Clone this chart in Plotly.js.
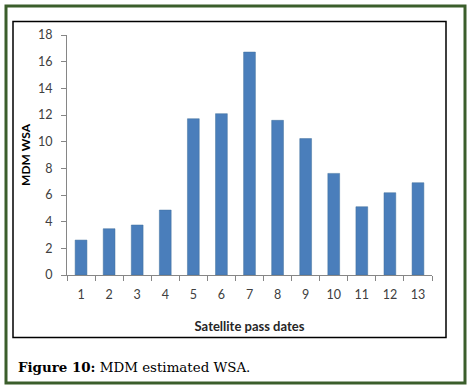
<!DOCTYPE html>
<html>
<head>
<meta charset="utf-8">
<script src="https://cdn.plot.ly/plotly-3.0.1.min.js"></script>
<style>
  html, body { margin: 0; padding: 0; background: #ffffff; }
  #chart { width: 472px; height: 390px; }
</style>
</head>
<body>
<div id="chart"></div>
<script>
// ---- data ----
const categories = ["1","2","3","4","5","6","7","8","9","10","11","12","13"];
const wsaValues = [2.62, 3.47, 3.75, 4.87, 11.72, 12.1, 16.72, 11.6, 10.23, 7.62, 5.12, 6.17, 6.92];
const yTickValues = [0, 2, 4, 6, 8, 10, 12, 14, 16, 18];

// ---- layout geometry (pixels) ----
const W = 472, H = 390;
const M = { l: 67, r: 40, t: 35, b: 115 };
const plotW = W - M.l - M.r, plotH = H - M.t - M.b;
const px = x => (x - M.l) / plotW;
const py = y => (H - M.b - y) / plotH;

const trace = {
  type: "bar",
  x: categories,
  y: wsaValues,
  width: 0.42,
  marker: { color: "#4a7ebb", line: { color: "#41719c", width: 0.5 } },
  hoverinfo: "x+y"
};

const layout = {
  width: W, height: H,
  margin: M,
  paper_bgcolor: "#ffffff",
  plot_bgcolor: "#ffffff",
  showlegend: false,
  font: { family: "Lato, 'Open Sans', sans-serif", size: 12, color: "#404040" },
  xaxis: {
    type: "category",
    tickson: "boundaries",
    ticks: "outside", ticklen: 5, tickcolor: "#868686", tickwidth: 1,
    showline: true, linecolor: "#868686", linewidth: 1,
    showgrid: false, zeroline: false,
    ticklabelstandoff: 8,
    tickfont: { family: "Lato, sans-serif", size: 12.5, color: "#404040" },
    title: { text: "<b>Satellite pass dates</b>", standoff: 20,
             font: { family: "Lato, sans-serif", size: 13, color: "#262626" } }
  },
  yaxis: {
    range: [0, 18],
    tickvals: yTickValues,
    ticks: "outside", ticklen: 5, tickcolor: "#868686", tickwidth: 1,
    showline: true, linecolor: "#868686", linewidth: 1,
    showgrid: false, zeroline: false,
    ticklabelstandoff: 6,
    tickfont: { family: "Lato, sans-serif", size: 12.5, color: "#404040" },
    title: { text: "<b>MDM WSA</b>", standoff: 4,
             font: { family: "Lato, sans-serif", size: 12, color: "#000000" } }
  },
  shapes: [
    { type: "rect", xref: "paper", yref: "paper",
      x0: px(6), x1: px(465), y0: py(383), y1: py(6),
      line: { color: "#3b5e2b", width: 3 }, layer: "below" },
    { type: "rect", xref: "paper", yref: "paper",
      x0: px(13), x1: px(446), y0: py(337.5), y1: py(21.5),
      line: { color: "#000000", width: 1.5 }, layer: "below" }
  ],
  annotations: [
    { xref: "paper", yref: "paper", x: px(16), y: py(367),
      xanchor: "left", yanchor: "middle", showarrow: false,
      text: "<b>Figure 10:</b> MDM estimated WSA.",
      font: { family: "'DejaVu Serif', serif", size: 13.4, color: "#000000" } }
  ]
};

Plotly.newPlot("chart", [trace], layout, { displayModeBar: false, staticPlot: true });
</script>
</body>
</html>
